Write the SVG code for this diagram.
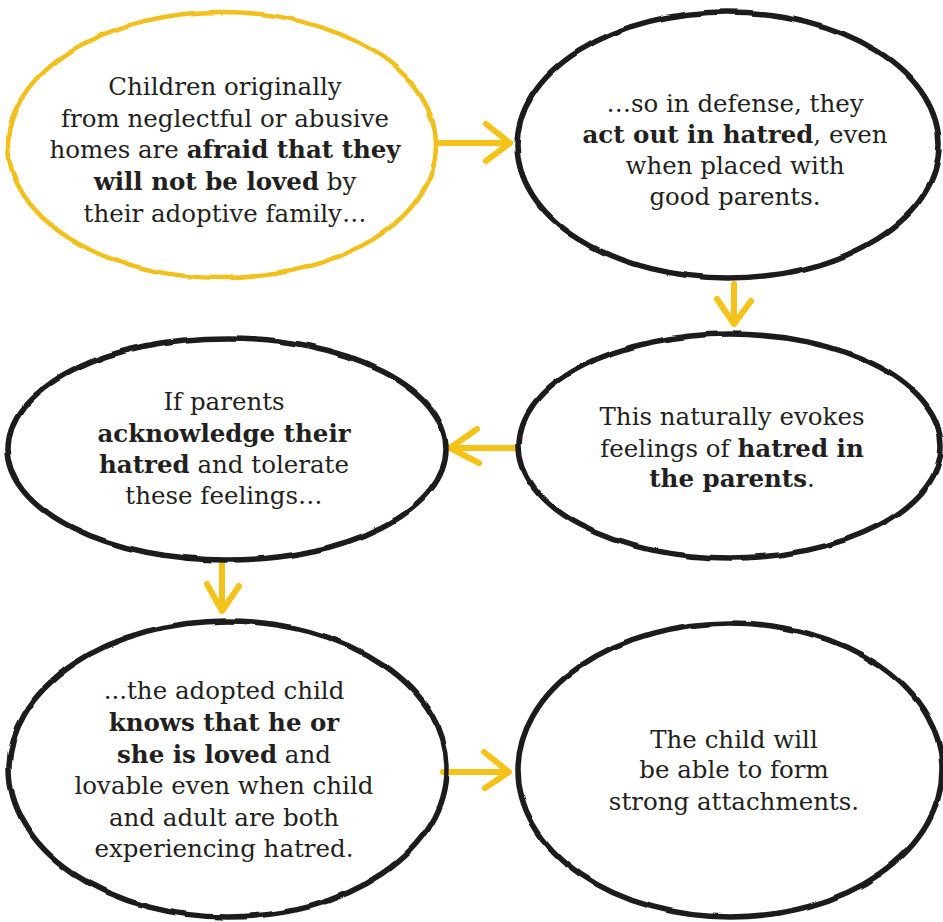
<svg xmlns="http://www.w3.org/2000/svg" width="943" height="922" viewBox="0 0 943 922">
  <defs>
    <filter id="rough" x="-5%" y="-5%" width="110%" height="110%">
      <feTurbulence type="fractalNoise" baseFrequency="0.025" numOctaves="2" seed="5" result="n"/>
      <feDisplacementMap in="SourceGraphic" in2="n" scale="4" xChannelSelector="R" yChannelSelector="G"/>
    </filter>
    <style>
      .bub { fill: none; stroke: #1c1a1a; stroke-width: 5.5; stroke-linejoin: round; stroke-linecap: round; }
      .bub.yel { stroke: #f2c01e; stroke-width: 4.5; }
      .arr { fill: none; stroke: #f5c21a; stroke-width: 6; stroke-linecap: round; stroke-linejoin: round; }
      text { font-family: "DejaVu Serif", "Liberation Serif", serif; font-size: 24.5px; fill: #231f20; text-anchor: middle; }
      .b { font-weight: bold; }
    </style>
  </defs>
  <rect width="943" height="922" fill="#ffffff"/>

  <g id="connectors">
    <path class="arr" d="M440 143 L510 143 M486 124 L510 143 L486 161"/>
    <path class="arr" d="M734 284 L734 324 M717 299 L734 324 L751 301"/>
    <path class="arr" d="M516 448 L450 448 M477 429 L450 448 L479 463"/>
    <path class="arr" d="M222 564 L222 611 M207 584 L222 611 L239 586"/>
    <path class="arr" d="M443 772 L509 772 M484 752 L509 772 L485 788"/>
  </g>

  <g id="node1">
    <ellipse class="bub yel" cx="222" cy="145" rx="214" ry="133" filter="url(#rough)"/>
    <text x="225" y="95">Children originally</text>
    <text x="225" y="127">from neglectful or abusive</text>
    <text x="225" y="158">homes are <tspan class="b">afraid that they</tspan></text>
    <text x="225" y="190"><tspan class="b">will not be loved</tspan> by</text>
    <text x="225" y="222">their adoptive family…</text>
  </g>

  <g id="node2">
    <ellipse class="bub" cx="728" cy="145" rx="211" ry="133" filter="url(#rough)"/>
    <text x="735" y="112">…so in defense, they</text>
    <text x="735" y="143"><tspan class="b">act out in hatred</tspan>, even</text>
    <text x="735" y="174">when placed with</text>
    <text x="735" y="205">good parents.</text>
  </g>

  <g id="node3">
    <ellipse class="bub" cx="730" cy="446" rx="211" ry="112" filter="url(#rough)"/>
    <text x="732" y="425">This naturally evokes</text>
    <text x="732" y="457">feelings of <tspan class="b">hatred in</tspan></text>
    <text x="732" y="487"><tspan class="b">the parents</tspan>.</text>
  </g>

  <g id="node4">
    <ellipse class="bub" cx="227" cy="449" rx="219" ry="111" filter="url(#rough)"/>
    <text x="224" y="410">If parents</text>
    <text x="224" y="442"><tspan class="b">acknowledge their</tspan></text>
    <text x="224" y="473"><tspan class="b">hatred</tspan> and tolerate</text>
    <text x="224" y="504">these feelings…</text>
  </g>

  <g id="node5">
    <ellipse class="bub" cx="228" cy="769" rx="219" ry="148" filter="url(#rough)"/>
    <text x="224" y="699">...the adopted child</text>
    <text x="224" y="731"><tspan class="b">knows that he or</tspan></text>
    <text x="224" y="763"><tspan class="b">she is loved</tspan> and</text>
    <text x="224" y="794">lovable even when child</text>
    <text x="224" y="826">and adult are both</text>
    <text x="224" y="857">experiencing hatred.</text>
  </g>

  <g id="node6">
    <ellipse class="bub" cx="730" cy="770" rx="212" ry="147" filter="url(#rough)"/>
    <text x="734" y="748">The child will</text>
    <text x="734" y="778">be able to form</text>
    <text x="734" y="810">strong attachments.</text>
  </g>
</svg>
